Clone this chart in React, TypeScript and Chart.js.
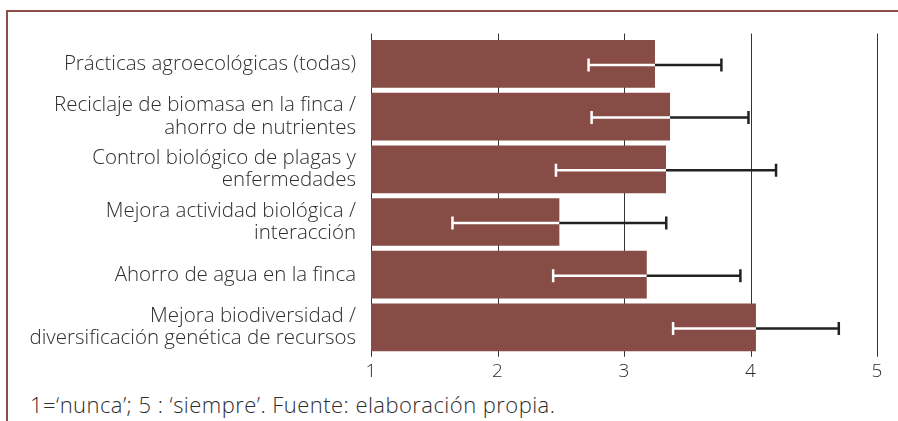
import React, { useEffect, useRef } from "react";
import { Chart, registerables } from "chart.js";

Chart.register(...registerables);

const categories: (string | string[])[] = [
  "Prácticas agroecológicas (todas)",
  ["Reciclaje de biomasa en la finca /", "ahorro de nutrientes"],
  ["Control biológico de plagas y", "enfermedades"],
  ["Mejora actividad biológica /", "interacción"],
  "Ahorro de agua en la finca",
  ["Mejora biodiversidad /", "diversificación genética de recursos"],
];
const means = [3.245, 3.364, 3.332, 2.489, 3.18, 4.043];
const errors = [0.525, 0.62, 0.87, 0.845, 0.74, 0.655];
const xTicks = [1, 2, 3, 4, 5];
const footnote = "1=\u2018nunca\u2019; 5 : \u2018siempre\u2019. Fuente: elaboración propia.";

const BAR_COLOR = "#874c45";
const FRAME_COLOR = "#8e4e48";
const TEXT_COLOR = "#2e2e2e";
const FONT = "'Open Sans', sans-serif";

const gridPlugin = {
  id: "customGrid",
  beforeDatasetsDraw(chart: any) {
    const { ctx, chartArea, scales } = chart;
    ctx.save();
    ctx.strokeStyle = "#333333";
    ctx.lineWidth = 1;
    xTicks.forEach((v) => {
      const x = Math.round(scales.x.getPixelForValue(v)) + 0.5;
      ctx.beginPath();
      ctx.moveTo(x, chartArea.top - 4);
      ctx.lineTo(x, chartArea.bottom + 3);
      ctx.stroke();
    });
    ctx.restore();
  },
};

const errorPlugin = {
  id: "errorBars",
  afterDatasetsDraw(chart: any) {
    const { ctx, scales } = chart;
    const meta = chart.getDatasetMeta(0);
    ctx.save();
    ctx.lineWidth = 2.5;
    meta.data.forEach((bar: any, i: number) => {
      const y = bar.y + 1;
      const xm = scales.x.getPixelForValue(means[i]);
      const xl = scales.x.getPixelForValue(means[i] - errors[i]);
      const xh = scales.x.getPixelForValue(means[i] + errors[i]);
      const cap = 6.5;
      ctx.strokeStyle = "#ffffff";
      ctx.beginPath();
      ctx.moveTo(xl, y);
      ctx.lineTo(xm, y);
      ctx.moveTo(xl, y - cap);
      ctx.lineTo(xl, y + cap);
      ctx.stroke();
      ctx.strokeStyle = "#222222";
      ctx.beginPath();
      ctx.moveTo(xm, y);
      ctx.lineTo(xh, y);
      ctx.moveTo(xh, y - cap);
      ctx.lineTo(xh, y + cap);
      ctx.stroke();
    });
    ctx.restore();
  },
};

export default function App() {
  const canvasRef = useRef<HTMLCanvasElement | null>(null);

  useEffect(() => {
    if (!canvasRef.current) return;
    const chart = new Chart(canvasRef.current, {
      type: "bar",
      data: {
        labels: categories,
        datasets: [
          {
            data: means.map((m) => [1, m]) as any,
            backgroundColor: BAR_COLOR,
            borderWidth: 0,
            categoryPercentage: 0.905,
            barPercentage: 1,
          },
        ],
      },
      options: {
        indexAxis: "y",
        animation: false,
        responsive: false,
        maintainAspectRatio: false,
        layout: { padding: { left: 0, right: 21, top: 35, bottom: 0 } },
        plugins: {
          legend: { display: false },
          tooltip: { enabled: false },
          title: { display: false },
        },
        scales: {
          x: {
            type: "linear",
            min: 1,
            max: 5,
            grid: { display: false, drawTicks: false },
            border: { display: false },
            ticks: {
              stepSize: 1,
              padding: 6,
              color: TEXT_COLOR,
              font: { family: FONT, size: 19, weight: "300" as any },
            },
            afterFit(scale: any) {
              scale.height = 26;
            },
          },
          y: {
            grid: { display: false, drawTicks: false },
            border: { display: false },
            ticks: {
              padding: 15,
              color: TEXT_COLOR,
              font: { family: FONT, size: 20.5, weight: "300" as any, lineHeight: 1.1 },
            },
            afterFit(scale: any) {
              scale.width = 371;
            },
          },
        },
      },
      plugins: [gridPlugin, errorPlugin],
    });
    return () => chart.destroy();
  }, []);

  return (
    <div
      style={{
        position: "fixed",
        left: 0,
        top: 0,
        width: 898,
        height: 421,
        background: "#ffffff",
        overflow: "hidden",
      }}
    >
      <div
        style={{
          position: "absolute",
          left: 6,
          top: 10,
          width: 960,
          height: 500,
          borderTop: `2px solid ${FRAME_COLOR}`,
          borderLeft: `2px solid ${FRAME_COLOR}`,
          boxSizing: "border-box",
        }}
      />
      <canvas
        ref={canvasRef}
        width={898}
        height={380}
        style={{ position: "absolute", left: 0, top: 0, width: 898, height: 380 }}
      />
      <div
        style={{
          position: "absolute",
          left: 30,
          top: 391,
          fontFamily: FONT,
          fontWeight: 300,
          fontSize: 22,
          letterSpacing: "0.45px",
          color: TEXT_COLOR,
          whiteSpace: "nowrap",
          lineHeight: "26px",
        }}
      >
        {footnote}
      </div>
    </div>
  );
}
